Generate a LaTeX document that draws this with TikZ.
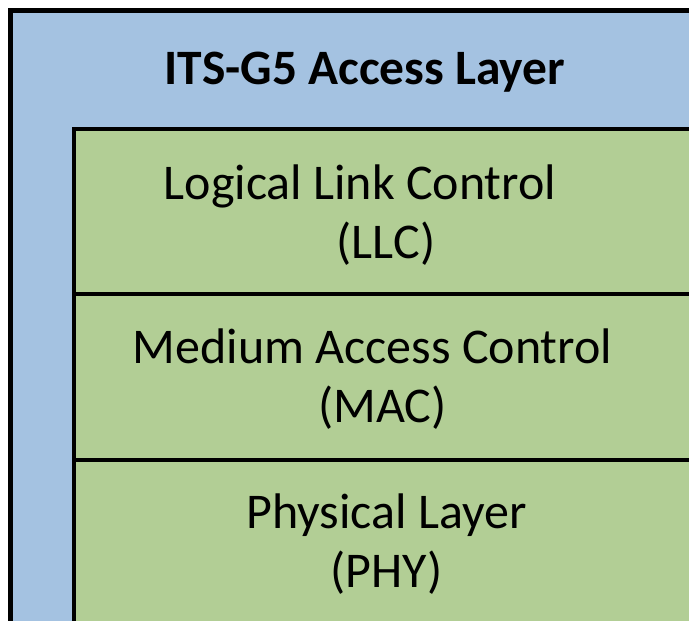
\documentclass[tikz,border=0pt]{standalone}
\usepackage{fontspec}
\setmainfont{Carlito}
\definecolor{outerblue}{HTML}{A4C2E1}
\definecolor{innergreen}{HTML}{B2CE95}
\begin{document}
\begin{tikzpicture}[x=1pt,y=-1pt,
  outerbox/.style={draw=black,line width=5pt,fill=outerblue},
  innerbox/.style={draw=black,line width=3.5pt,fill=innergreen},
  divider/.style={draw=black,line width=3.5pt},
  titletext/.style={inner sep=0pt,anchor=base,font=\fontsize{49.5}{58}\selectfont\bfseries},
  bodytext/.style={inner sep=0pt,anchor=base,font=\fontsize{50}{58}\selectfont}]
\useasboundingbox (0,0) rectangle (689,621);
\begin{scope}
\clip (0,0) rectangle (689,621);
\fill[white] (0,0) rectangle (689,621);
\draw[outerbox] (10.5,10.5) rectangle (720,660);
\draw[innerbox] (74,129) rectangle (720,660);
\draw[divider] (74,294) -- (720,294);
\draw[divider] (74,460) -- (720,460);
\end{scope}
\node[titletext] (title) at (365,84) {ITS-G5 Access Layer};
\node[bodytext] (llc1) at (360,199) {Logical Link Control};
\node[bodytext] (llc2) at (386,258) {(LLC)};
\node[bodytext] (mac1) at (372.5,363) {Medium Access Control};
\node[bodytext] (mac2) at (382.5,422) {(MAC)};
\node[bodytext] (phy1) at (386.5,528) {Physical Layer};
\node[bodytext] (phy2) at (386.5,587) {(PHY)};
\end{tikzpicture}
\end{document}
